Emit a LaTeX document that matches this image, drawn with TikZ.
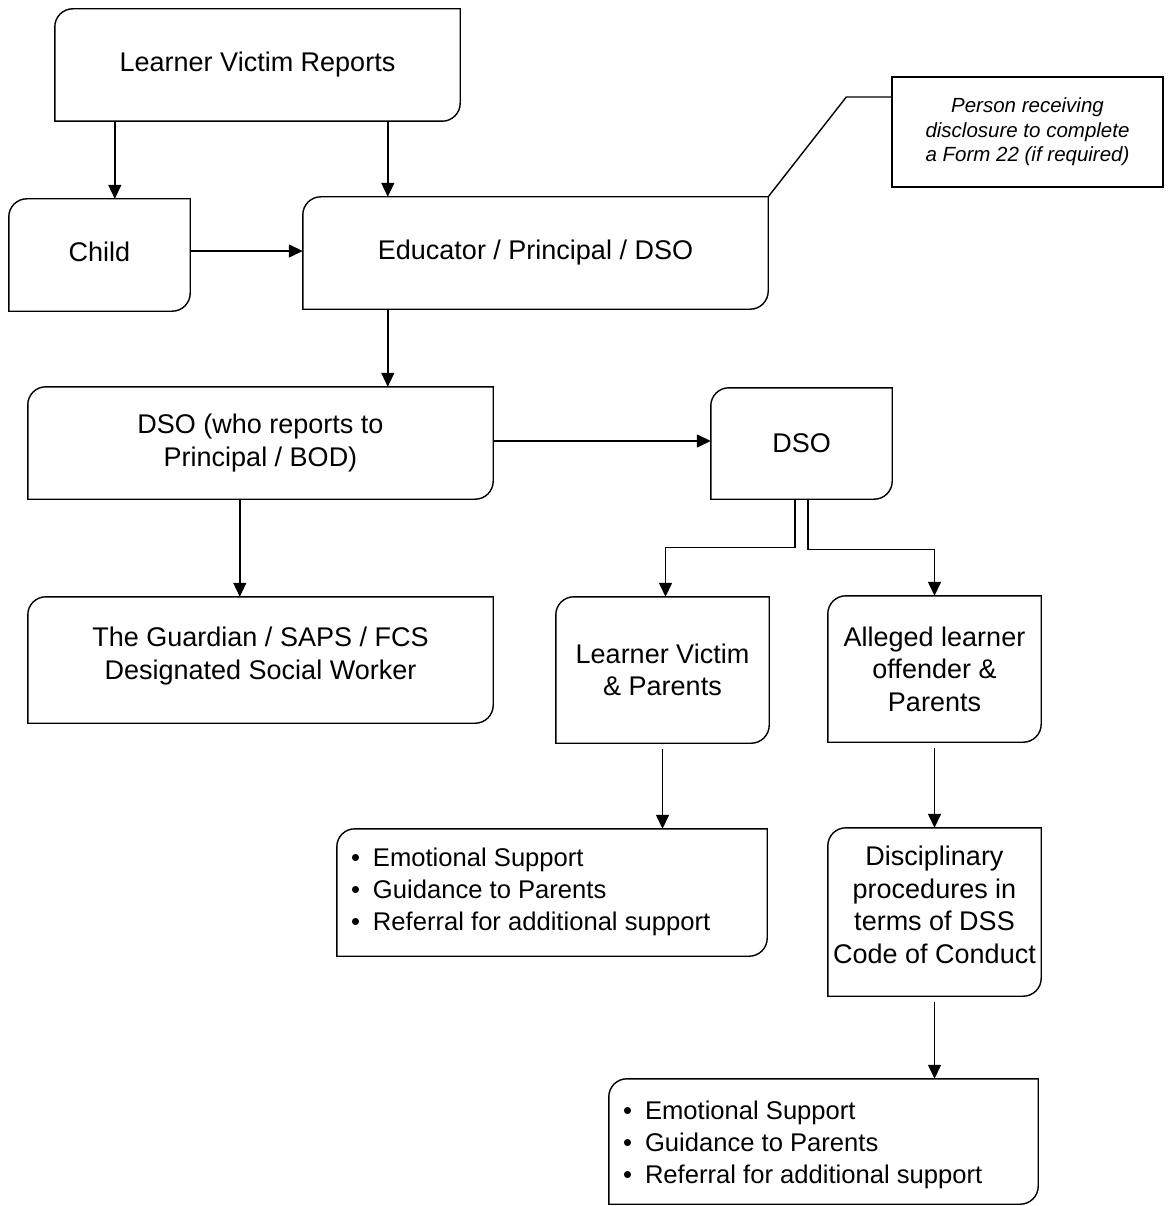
\documentclass[tikz,border=0pt]{standalone}
\usepackage{fontspec}
\setmainfont{Liberation Sans}
\usetikzlibrary{arrows.meta,calc}
\newcommand\cornerbox[1]{%
  \draw[outline] (#1.south west) -- (#1.north west) -- (#1.north east);
  \draw[outline] (#1.north east) -- (#1.south east) -- (#1.south west);}
\tikzset{
  boxtext/.style={inner sep=0pt, align=center, font=\fontsize{27}{32.5}\selectfont},
  box/.style={boxtext},
  listbox/.style={inner sep=0pt, align=left, font=\fontsize{25.6}{32}\selectfont},
  notebox/.style={draw, line width=1.4pt, inner sep=0pt, align=center,
    font=\itshape\fontsize{20.5}{24.5}\selectfont},
  outline/.style={line width=1.4pt, rounded corners=18pt, line cap=rect},
  arr/.style={line width=1.4pt, -{Triangle[length=14pt,width=13pt]}},
  link/.style={line width=1.4pt}
}
\newcommand\bul{\makebox[22pt][l]{\textbullet}}
\begin{document}
\begin{tikzpicture}[x=1pt,y=-1pt]
\useasboundingbox (0,0) rectangle (1169,1206);
\node[box, minimum width=405pt, minimum height=112pt] (lvr) at (257.5,65) {Learner Victim Reports};
\node[box, minimum width=181pt, minimum height=112pt,
  label={[boxtext, name=childt, yshift=3pt]center:Child}] (child) at (99.5,255) {};
\node[box, minimum width=465pt, minimum height=112pt] (edu) at (535.5,253) {Educator / Principal / DSO};
\node[notebox, minimum width=271pt, minimum height=110pt] (note) at (1027.5,132) {Person receiving\\disclosure to complete\\a Form 22 (if required)};
\node[box, minimum width=465pt, minimum height=112pt] (dsow) at (260.5,443) {DSO (who reports to\\Principal / BOD)};
\node[box, minimum width=465pt, minimum height=126pt,
  label={[boxtext, name=guardt, yshift=4pt]center:{The Guardian / SAPS / FCS\\Designated Social Worker}}] (guard) at (260.5,660) {};
\node[box, minimum width=181pt, minimum height=111pt] (dso) at (801.5,443.5) {DSO};
\node[box, minimum width=213pt, minimum height=146pt] (lvp) at (662.5,670) {Learner Victim\\\& Parents};
\node[box, minimum width=213pt, minimum height=146pt] (alleg) at (934.5,669) {Alleged learner\\offender \&\\Parents};
\node[listbox, minimum width=430pt, minimum height=127pt] (sup1) at (552,892.5) {};
\node[listbox, anchor=west] (sup1t) at ($(sup1.west)+(14,-1)$) {\bul Emotional Support\\\bul Guidance to Parents\\\bul Referral for additional support};
\node[box, minimum width=213pt, minimum height=168pt,
  label={[boxtext, name=disct, yshift=7pt]center:{Disciplinary\\procedures in\\terms of DSS\\Code of Conduct}}] (disc) at (934.5,912) {};
\node[listbox, minimum width=429pt, minimum height=125pt] (sup2) at (823.5,1141.5) {};
\node[listbox, anchor=west] (sup2t) at ($(sup2.west)+(14,3)$) {\bul Emotional Support\\\bul Guidance to Parents\\\bul Referral for additional support};
\cornerbox{lvr}
\cornerbox{child}
\cornerbox{edu}
\cornerbox{dsow}
\cornerbox{guard}
\cornerbox{dso}
\cornerbox{lvp}
\cornerbox{alleg}
\cornerbox{sup1}
\cornerbox{disc}
\cornerbox{sup2}
% connectors
\draw[arr] ([xshift=60pt]lvr.south west) -- ([xshift=60pt]lvr.south west |- child.north);
\draw[arr] ([xshift=85pt]edu.north west |- lvr.south) -- ([xshift=85pt]edu.north west);
\draw[arr] ([yshift=4pt]child.east) -- ([yshift=4pt]child.east -| edu.west);
\draw[arr] ([xshift=85pt]edu.south west) -- ([xshift=85pt]edu.south west |- dsow.north);
\draw[arr] ([yshift=2pt]dsow.east) -- ([yshift=2pt]dsow.east -| dso.west);
\draw[arr] ([xshift=212pt]dsow.south west) -- ([xshift=212pt]dsow.south west |- guard.north);
\draw[arr] ([xshift=-6.5pt]dso.south) -- ++(0,48) -| ([xshift=3pt]lvp.north);
\draw[arr] ([xshift=6.5pt]dso.south) -- ++(0,50) -| (alleg.north);
\draw[arr] ([yshift=-6pt]lvp.south) -- (lvp.south |- sup1.north);
\draw[arr] ([yshift=-6pt]alleg.south) -- (disc.north);
\draw[arr] ([yshift=-6pt]disc.south) -- (disc.south |- sup2.north);
\coordinate (bend) at ([xshift=-45pt,yshift=35pt]note.west);
\draw[link] (edu.north east) -- (bend) -- ([yshift=35pt]note.west);
\end{tikzpicture}
\end{document}
